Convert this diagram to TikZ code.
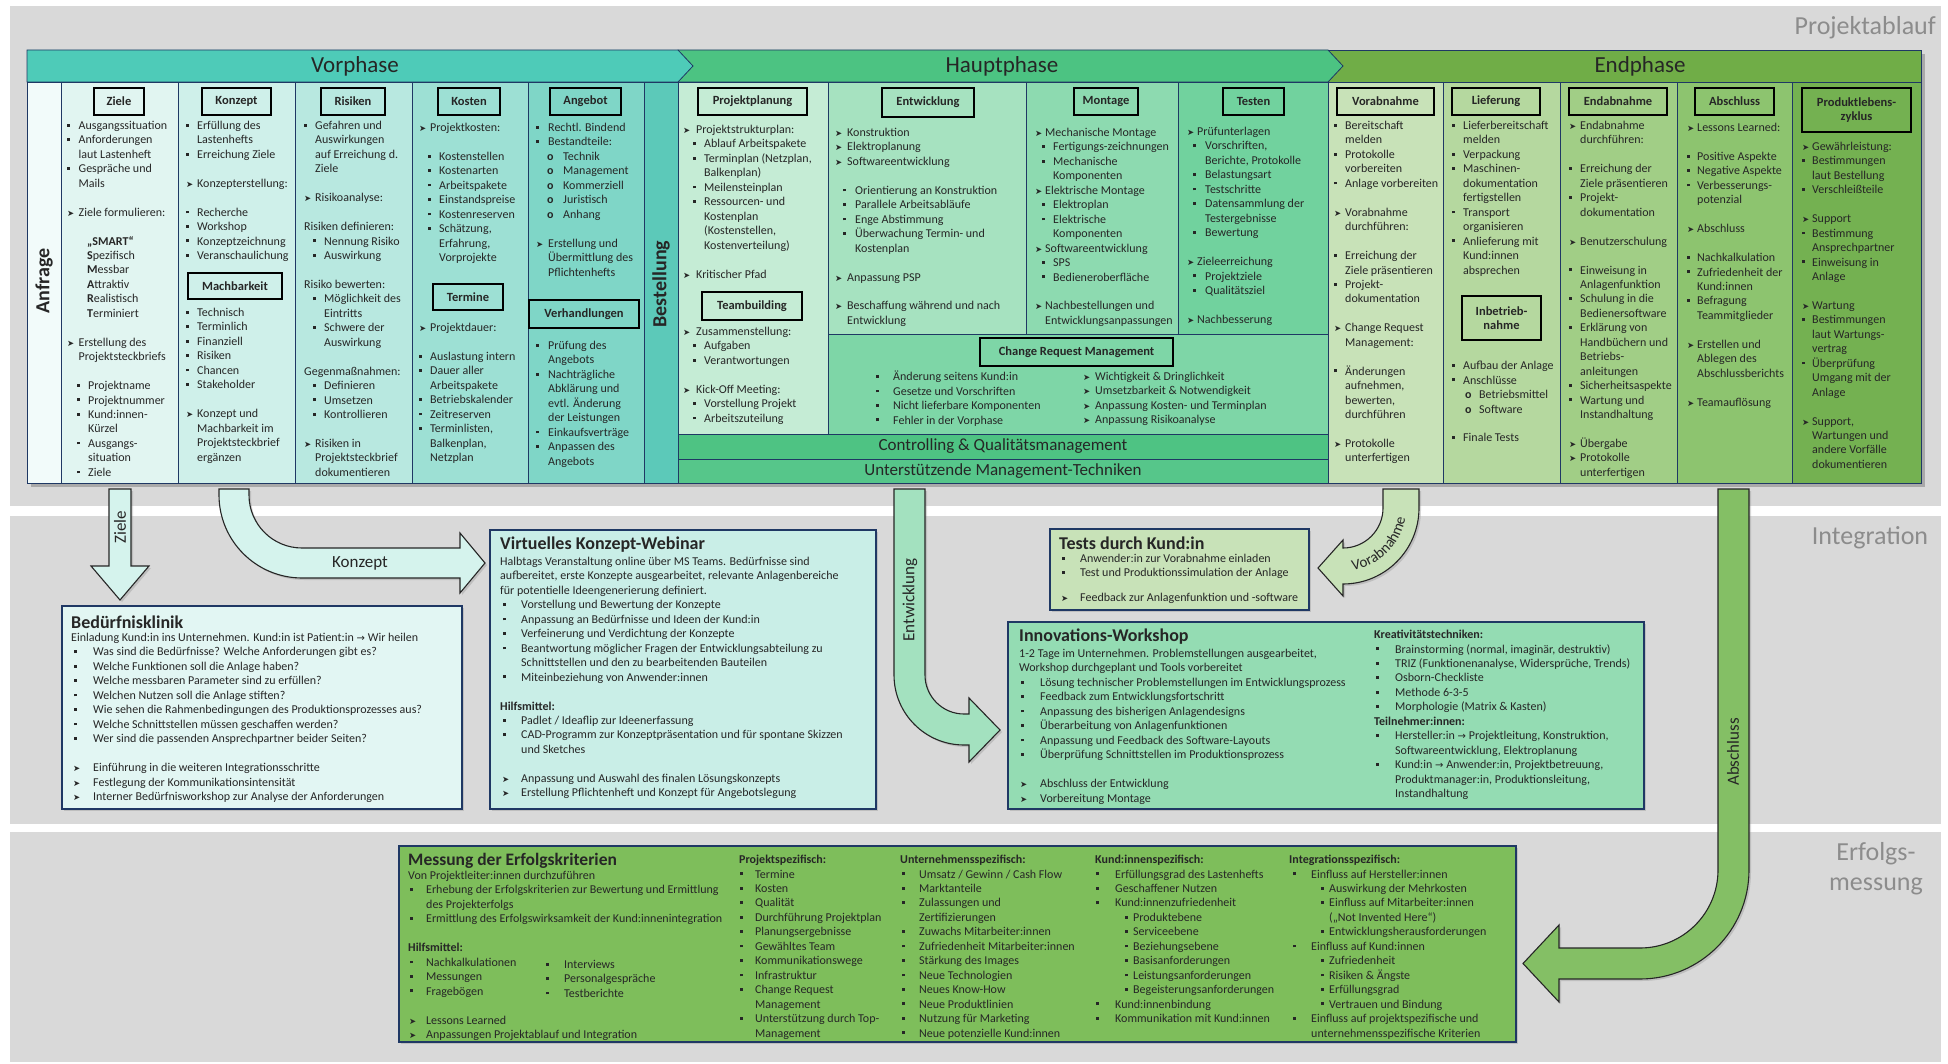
\documentclass[tikz,border=0pt]{standalone}
\usepackage{fontspec}
\setmainfont{Carlito}
\newfontfamily\dv{DejaVu Sans}
\usetikzlibrary{shadows,decorations.text}

% palette
\definecolor{navy}{RGB}{31,56,100}
\definecolor{ink}{RGB}{38,38,38}
\definecolor{bandgrey}{RGB}{217,217,217}
\definecolor{lblgrey}{RGB}{140,140,140}
\definecolor{vorbar}{RGB}{78,203,184}
\definecolor{hauptbar}{RGB}{76,195,130}
\definecolor{endbar}{RGB}{112,173,71}
\definecolor{cAnf}{RGB}{242,251,250}
\definecolor{cZiele}{RGB}{225,245,241}
\definecolor{cKonz}{RGB}{207,240,234}
\definecolor{cRisk}{RGB}{184,232,224}
\definecolor{cKost}{RGB}{157,224,212}
\definecolor{cAng}{RGB}{127,214,199}
\definecolor{cBest}{RGB}{92,201,185}
\definecolor{cPlan}{RGB}{197,236,213}
\definecolor{cEntw}{RGB}{166,226,192}
\definecolor{cMont}{RGB}{141,218,176}
\definecolor{cTest}{RGB}{113,210,158}
\definecolor{cCRM}{RGB}{126,214,167}
\definecolor{cCtrl}{RGB}{78,195,131}
\definecolor{cUnt}{RGB}{86,198,138}
\definecolor{cVorab}{RGB}{200,226,184}
\definecolor{cLief}{RGB}{181,216,159}
\definecolor{cEnda}{RGB}{161,206,134}
\definecolor{cAbs}{RGB}{141,196,111}
\definecolor{cProd}{RGB}{116,177,81}
\definecolor{pBed}{RGB}{226,246,243}
\definecolor{pWeb}{RGB}{201,238,231}
\definecolor{pTest}{RGB}{200,226,184}
\definecolor{pInno}{RGB}{148,220,179}
\definecolor{pMess}{RGB}{126,190,91}
\definecolor{aLight}{RGB}{213,243,237}
\definecolor{aEntw}{RGB}{163,225,191}
\definecolor{aVorab}{RGB}{200,226,184}
\definecolor{aAbs}{RGB}{132,191,101}

\newcommand\bodyfont{\fontsize{12}{14.45}\selectfont}
\newlength\bw
\newcommand\sqb{\rule[2.9pt]{2.8pt}{2.8pt}}
\newcommand\arrb{{\dv\fontsize{8.5}{9}\selectfont\char"27A4}}
\newcommand\rarr{{\dv\fontsize{10}{10}\selectfont\char"2192}}
\newcommand\pB[1]{\makebox[\bw][l]{\sqb}#1}
\newcommand\pA[1]{\makebox[\bw][l]{\arrb}#1}
\newcommand\pI[1]{\hspace*{\bw}#1}
\newcommand\lB[3]{\hspace*{#1}\makebox[#2][l]{\sqb}#3}
\newcommand\lA[3]{\hspace*{#1}\makebox[#2][l]{\arrb}#3}
\newcommand\lO[3]{\hspace*{#1}\makebox[#2][l]{\textbf{o}}#3}
\newcommand\lI[2]{\hspace*{#1}#2}

\begin{document}
\begin{tikzpicture}[x=1pt,y=-1pt,
  col/.style={draw=navy, line width=0.8pt},
  hbox/.style={draw=black, line width=1.3pt, inner sep=0pt, align=center,
    font=\fontsize{12.5}{14}\selectfont\bfseries, text=ink},
  txt/.style={anchor=north west, inner sep=0pt, align=left, font=\bodyfont,
    text=ink, execute at begin node={\rule{0pt}{10pt}}},
  bw/.code={\setlength\bw{#1}},
  phase/.style={font=\fontsize{23}{25}\selectfont, text=ink, inner sep=0pt},
  bandlbl/.style={font=\fontsize{26}{28}\selectfont, text=lblgrey, inner sep=0pt, align=center},
  panel/.style={draw=navy, line width=1.2pt,
    drop shadow={opacity=0.3, shadow xshift=2pt, shadow yshift=-2pt}},
  ptitle/.style={anchor=west, inner sep=0pt, font=\fontsize{18}{20}\selectfont\bfseries, text=ink},
  blockarrow/.style={draw=black!85, line width=1.1pt,
    drop shadow={opacity=0.3, shadow xshift=2pt, shadow yshift=-2pt}},
  arrowlbl/.style={font=\fontsize{17}{18}\selectfont, text=ink, inner sep=0pt},
  sidelbl/.style={font=\fontsize{20}{22}\selectfont\bfseries, text=ink, inner sep=0pt, rotate=90},
  barlbl/.style={font=\fontsize{17}{18}\selectfont, text=ink, inner sep=0pt}
]
\useasboundingbox (0,0) rectangle (1948,1064);
\fill[white] (0,0) rectangle (1948,1064);

% background bands
\fill[bandgrey] (10,6) rectangle (1941,506);
\fill[bandgrey] (10,516) rectangle (1941,824);
\fill[bandgrey] (10,832) rectangle (1941,1062);
\node[bandlbl, anchor=east] (lblAblauf) at (1936,28) {Projektablauf};
\node[bandlbl] (lblInt) at (1870,538) {Integration};
\node[bandlbl] (lblErf) at (1876,869) {Erfolgs-\\[2pt]messung};

% table shadow
\fill[black, opacity=0.22] (31,54) rectangle (1925,487);

% ---------- columns ----------
\draw[col, fill=cAnf]  (27,82) rectangle (61,483);
\draw[col, fill=cZiele] (61,82) rectangle (178,483);
\draw[col, fill=cKonz] (178,82) rectangle (295,483);
\draw[col, fill=cRisk] (295,82) rectangle (412,483);
\draw[col, fill=cKost] (412,82) rectangle (528,483);
\draw[col, fill=cAng]  (528,82) rectangle (644,483);
\draw[col, fill=cBest] (644,82) rectangle (678,483);
\draw[col, fill=cPlan] (678,82) rectangle (828,434);
\draw[col, fill=cEntw] (828,82) rectangle (1026,334);
\draw[col, fill=cMont] (1026,82) rectangle (1178,334);
\draw[col, fill=cTest] (1178,82) rectangle (1328,334);
\draw[col, fill=cCRM]  (828,334) rectangle (1328,434);
\draw[col, fill=cCtrl] (678,434) rectangle (1328,459);
\draw[col, fill=cUnt]  (678,459) rectangle (1328,483);
\draw[col, fill=cVorab] (1328,82) rectangle (1443,483);
\draw[col, fill=cLief] (1443,82) rectangle (1560,483);
\draw[col, fill=cEnda] (1560,82) rectangle (1677,483);
\draw[col, fill=cAbs]  (1677,82) rectangle (1792,483);
\draw[col, fill=cProd] (1792,82) rectangle (1921,483);

% ---------- phase bar ----------
\draw[col, fill=endbar] (1328,50) rectangle (1921,82);
\draw[col, fill=hauptbar] (678,50) -- (1328,50) -- (1343,66) -- (1328,82) -- (678,82) -- cycle;
\draw[col, fill=vorbar] (27,50) -- (678,50) -- (693,66) -- (678,82) -- (27,82) -- cycle;
\node[phase] (phVor) at (355,66) {Vorphase};
\node[phase] (phHaupt) at (1002,66) {Hauptphase};
\node[phase] (phEnd) at (1640,66) {Endphase};

\node[sidelbl] (anfrage) at (44,281) {Anfrage};
\node[sidelbl] (bestellung) at (661,284) {Bestellung};
\node[barlbl] (ctrl) at (1003,446.5) {Controlling \& Qualitätsmanagement};
\node[barlbl] (unterst) at (1003,471) {Unterstützende Management-Techniken};

% ---------- header boxes ----------
\node[hbox, minimum width=50pt, minimum height=27pt] (hZiele) at (119,101.5) {Ziele};
\node[hbox, minimum width=69pt, minimum height=27pt] (hKonzept) at (236.5,101.5) {Konzept};
\node[hbox, minimum width=64pt, minimum height=27pt] (hRisiken) at (353,101.5) {Risiken};
\node[hbox, minimum width=62pt, minimum height=27pt] (hKosten) at (469,101.5) {Kosten};
\node[hbox, minimum width=71pt, minimum height=27pt] (hAngebot) at (585.5,101.5) {Angebot};
\node[hbox, minimum width=109pt, minimum height=27pt] (hPlan) at (752.5,101.5) {Projektplanung};
\node[hbox, minimum width=92pt, minimum height=29pt] (hEntw) at (928,102.5) {Entwicklung};
\node[hbox, minimum width=64pt, minimum height=27pt] (hMont) at (1106,101.5) {Montage};
\node[hbox, minimum width=61pt, minimum height=27pt] (hTest) at (1253.5,101.5) {Testen};
\node[hbox, minimum width=97pt, minimum height=27pt] (hVorab) at (1385.5,101.5) {Vorabnahme};
\node[hbox, minimum width=88pt, minimum height=27pt] (hLief) at (1496,101.5) {Lieferung};
\node[hbox, minimum width=98pt, minimum height=27pt] (hEnda) at (1618,101.5) {Endabnahme};
\node[hbox, minimum width=79pt, minimum height=27pt] (hAbs) at (1734.5,101.5) {Abschluss};
\node[hbox, minimum width=109pt, minimum height=44pt] (hProd) at (1856.5,110) {Produktlebens-\\zyklus};
\node[hbox, minimum width=94pt, minimum height=26pt] (hMach) at (235,286) {Machbarkeit};
\node[hbox, minimum width=70pt, minimum height=26pt] (hTermine) at (468,297) {Termine};
\node[hbox, minimum width=110pt, minimum height=28pt] (hVerh) at (584,314) {Verhandlungen};
\node[hbox, minimum width=100pt, minimum height=28pt] (hTeam) at (752,306) {Teambuilding};
\node[hbox, minimum width=193pt, minimum height=28pt] (hCRM) at (1076.5,352) {Change Request Management};
\node[hbox, minimum width=79pt, minimum height=44pt] (hInbetr) at (1501.5,318) {Inbetrieb-\\nahme};

% ---------- column texts ----------
\node[txt, bw=11.5pt] (tZiele) at (67,121) {\pB{Ausgangssituation}\\ \pB{Anforderungen}\\ \pI{laut Lastenheft}\\ \pB{Gespräche und}\\ \pI{Mails}\\ ~\\ \pA{Ziele formulieren:}\\ ~\\ \lI{20pt}{\textbf{„SMART“}}\\ \lI{20pt}{\textbf{S}pezifisch}\\ \lI{20pt}{\textbf{M}essbar}\\ \lI{20pt}{\textbf{A}ttraktiv}\\ \lI{20pt}{\textbf{R}ealistisch}\\ \lI{20pt}{\textbf{T}erminiert}\\ ~\\ \pA{Erstellung des}\\ \pI{Projektsteckbriefs}\\ ~\\ \lB{10pt}{11pt}{Projektname}\\ \lB{10pt}{11pt}{Projektnummer}\\ \lB{10pt}{11pt}{Kund:innen-}\\ \lI{21pt}{Kürzel}\\ \lB{10pt}{11pt}{Ausgangs-}\\ \lI{21pt}{situation}\\ \lB{10pt}{11pt}{Ziele}};

\node[txt, bw=11pt] (tKonzA) at (186,121) {\pB{Erfüllung des}\\ \pI{Lastenhefts}\\ \pB{Erreichung Ziele}\\ ~\\ \pA{Konzepterstellung:}\\ ~\\ \pB{Recherche}\\ \pB{Workshop}\\ \pB{Konzeptzeichnung}\\ \pB{Veranschaulichung}};
\node[txt, bw=11pt] (tKonzB) at (186,308) {\pB{Technisch}\\ \pB{Terminlich}\\ \pB{Finanziell}\\ \pB{Risiken}\\ \pB{Chancen}\\ \pB{Stakeholder}\\ ~\\ \pA{Konzept und}\\ \pI{Machbarkeit im}\\ \pI{Projektsteckbrief}\\ \pI{ergänzen}};

\node[txt, bw=11pt] (tRisk) at (304,121) {\pB{Gefahren und}\\ \pI{Auswirkungen}\\ \pI{auf Erreichung d.}\\ \pI{Ziele}\\ ~\\ \pA{Risikoanalyse:}\\ ~\\ Risiken definieren:\\ \lB{9pt}{11pt}{Nennung Risiko}\\ \lB{9pt}{11pt}{Auswirkung}\\ ~\\ Risiko bewerten:\\ \lB{9pt}{11pt}{Möglichkeit des}\\ \lI{20pt}{Eintritts}\\ \lB{9pt}{11pt}{Schwere der}\\ \lI{20pt}{Auswirkung}\\ ~\\ Gegenmaßnahmen:\\ \lB{9pt}{11pt}{Definieren}\\ \lB{9pt}{11pt}{Umsetzen}\\ \lB{9pt}{11pt}{Kontrollieren}\\ ~\\ \pA{Risiken in}\\ \pI{Projektsteckbrief}\\ \pI{dokumentieren}};

\node[txt, bw=11pt] (tKostA) at (419,123) {\pA{Projektkosten:}\\ ~\\ \lB{9pt}{11pt}{Kostenstellen}\\ \lB{9pt}{11pt}{Kostenarten}\\ \lB{9pt}{11pt}{Arbeitspakete}\\ \lB{9pt}{11pt}{Einstandspreise}\\ \lB{9pt}{11pt}{Kostenreserven}\\ \lB{9pt}{11pt}{Schätzung,}\\ \lI{20pt}{Erfahrung,}\\ \lI{20pt}{Vorprojekte}};
\node[txt, bw=11pt] (tKostB) at (419,323) {\pA{Projektdauer:}\\ ~\\ \pB{Auslastung intern}\\ \pB{Dauer aller}\\ \pI{Arbeitspakete}\\ \pB{Betriebskalender}\\ \pB{Zeitreserven}\\ \pB{Terminlisten,}\\ \pI{Balkenplan,}\\ \pI{Netzplan}};

\node[txt, bw=12pt] (tAngA) at (536,123) {\pB{Rechtl. Bindend}\\ \pB{Bestandteile:}\\ \lO{11pt}{16pt}{Technik}\\ \lO{11pt}{16pt}{Management}\\ \lO{11pt}{16pt}{Kommerziell}\\ \lO{11pt}{16pt}{Juristisch}\\ \lO{11pt}{16pt}{Anhang}\\ ~\\ \pA{Erstellung und}\\ \pI{Übermittlung des}\\ \pI{Pflichtenhefts}};
\node[txt, bw=12pt] (tAngB) at (536,341) {\pB{Prüfung des}\\ \pI{Angebots}\\ \pB{Nachträgliche}\\ \pI{Abklärung und}\\ \pI{evtl. Änderung}\\ \pI{der Leistungen}\\ \pB{Einkaufsverträge}\\ \pB{Anpassen des}\\ \pI{Angebots}};

\node[txt, bw=13pt] (tPlanA) at (683,125) {\pA{Projektstrukturplan:}\\ \lB{10pt}{11pt}{Ablauf Arbeitspakete}\\ \lB{10pt}{11pt}{Terminplan (Netzplan,}\\ \lI{21pt}{Balkenplan)}\\ \lB{10pt}{11pt}{Meilensteinplan}\\ \lB{10pt}{11pt}{Ressourcen- und}\\ \lI{21pt}{Kostenplan}\\ \lI{21pt}{(Kostenstellen,}\\ \lI{21pt}{Kostenverteilung)}\\ ~\\ \pA{Kritischer Pfad}};
\node[txt, bw=13pt] (tPlanB) at (683,327) {\pA{Zusammenstellung:}\\ \lB{10pt}{11pt}{Aufgaben}\\ \lB{10pt}{11pt}{Verantwortungen}\\ ~\\ \pA{Kick-Off Meeting:}\\ \lB{10pt}{11pt}{Vorstellung Projekt}\\ \lB{10pt}{11pt}{Arbeitszuteilung}};

\node[txt, bw=12pt] (tEntw) at (835,128) {\pA{Konstruktion}\\ \pA{Elektroplanung}\\ \pA{Softwareentwicklung}\\ ~\\ \lB{8pt}{12pt}{Orientierung an Konstruktion}\\ \lB{8pt}{12pt}{Parallele Arbeitsabläufe}\\ \lB{8pt}{12pt}{Enge Abstimmung}\\ \lB{8pt}{12pt}{Überwachung Termin- und}\\ \lI{20pt}{Kostenplan}\\ ~\\ \pA{Anpassung PSP}\\ ~\\ \pA{Beschaffung während und nach}\\ \pI{Entwicklung}};

\node[txt, bw=10pt] (tMont) at (1035,128) {\pA{Mechanische Montage}\\ \lB{7pt}{11pt}{Fertigungs-zeichnungen}\\ \lB{7pt}{11pt}{Mechanische}\\ \lI{18pt}{Komponenten}\\ \pA{Elektrische Montage}\\ \lB{7pt}{11pt}{Elektroplan}\\ \lB{7pt}{11pt}{Elektrische}\\ \lI{18pt}{Komponenten}\\ \pA{Softwareentwicklung}\\ \lB{7pt}{11pt}{SPS}\\ \lB{7pt}{11pt}{Bedieneroberfläche}\\ ~\\ \pA{Nachbestellungen und}\\ \pI{Entwicklungsanpassungen}};

\node[txt, bw=10pt] (tTest) at (1187,127) {\pA{Prüfunterlagen}\\ \lB{6pt}{12pt}{Vorschriften,}\\ \lI{18pt}{Berichte, Protokolle}\\ \lB{6pt}{12pt}{Belastungsart}\\ \lB{6pt}{12pt}{Testschritte}\\ \lB{6pt}{12pt}{Datensammlung der}\\ \lI{18pt}{Testergebnisse}\\ \lB{6pt}{12pt}{Bewertung}\\ ~\\ \pA{Zieleerreichung}\\ \lB{6pt}{12pt}{Projektziele}\\ \lB{6pt}{12pt}{Qualitätsziel}\\ ~\\ \pA{Nachbesserung}};

\node[txt, bw=17pt] (tCRMa) at (876,371) {\pB{Änderung seitens Kund:in}\\ \pB{Gesetze und Vorschriften}\\ \pB{Nicht lieferbare Komponenten}\\ \pB{Fehler in der Vorphase}};
\node[txt, bw=12pt] (tCRMb) at (1083,372) {\pA{Wichtigkeit \& Dringlichkeit}\\ \pA{Umsetzbarkeit \& Notwendigkeit}\\ \pA{Anpassung Kosten- und Terminplan}\\ \pA{Anpassung Risikoanalyse}};

\node[txt, bw=11pt] (tVorab) at (1334,121) {\pB{Bereitschaft}\\ \pI{melden}\\ \pB{Protokolle}\\ \pI{vorbereiten}\\ \pB{Anlage vorbereiten}\\ ~\\ \pA{Vorabnahme}\\ \pI{durchführen:}\\ ~\\ \pB{Erreichung der}\\ \pI{Ziele präsentieren}\\ \pB{Projekt-}\\ \pI{dokumentation}\\ ~\\ \pA{Change Request}\\ \pI{Management:}\\ ~\\ \pB{Änderungen}\\ \pI{aufnehmen,}\\ \pI{bewerten,}\\ \pI{durchführen}\\ ~\\ \pA{Protokolle}\\ \pI{unterfertigen}};

\node[txt, bw=11pt] (tLiefA) at (1452,121) {\pB{Lieferbereitschaft}\\ \pI{melden}\\ \pB{Verpackung}\\ \pB{Maschinen-}\\ \pI{dokumentation}\\ \pI{fertigstellen}\\ \pB{Transport}\\ \pI{organisieren}\\ \pB{Anlieferung mit}\\ \pI{Kund:innen}\\ \pI{absprechen}};
\node[txt, bw=11pt] (tLiefB) at (1452,361) {\pB{Aufbau der Anlage}\\ \pB{Anschlüsse}\\ \lO{13pt}{14pt}{Betriebsmittel}\\ \lO{13pt}{14pt}{Software}\\ ~\\ \pB{Finale Tests}};

\node[txt, bw=11pt] (tEnda) at (1569,121) {\pA{Endabnahme}\\ \pI{durchführen:}\\ ~\\ \pB{Erreichung der}\\ \pI{Ziele präsentieren}\\ \pB{Projekt-}\\ \pI{dokumentation}\\ ~\\ \pA{Benutzerschulung}\\ ~\\ \pB{Einweisung in}\\ \pI{Anlagenfunktion}\\ \pB{Schulung in die}\\ \pI{Bedienersoftware}\\ \pB{Erklärung von}\\ \pI{Handbüchern und}\\ \pI{Betriebs-}\\ \pI{anleitungen}\\ \pB{Sicherheitsaspekte}\\ \pB{Wartung und}\\ \pI{Instandhaltung}\\ ~\\ \pA{Übergabe}\\ \pA{Protokolle}\\ \pI{unterfertigen}};

\node[txt, bw=10pt] (tAbs) at (1687,123) {\pA{Lessons Learned:}\\ ~\\ \pB{Positive Aspekte}\\ \pB{Negative Aspekte}\\ \pB{Verbesserungs-}\\ \pI{potenzial}\\ ~\\ \pA{Abschluss}\\ ~\\ \pB{Nachkalkulation}\\ \pB{Zufriedenheit der}\\ \pI{Kund:innen}\\ \pB{Befragung}\\ \pI{Teammitglieder}\\ ~\\ \pA{Erstellen und}\\ \pI{Ablegen des}\\ \pI{Abschlussberichts}\\ ~\\ \pA{Teamauflösung}};

\node[txt, bw=10pt] (tProd) at (1802,142) {\pA{Gewährleistung:}\\ \pB{Bestimmungen}\\ \pI{laut Bestellung}\\ \pB{Verschleißteile}\\ ~\\ \pA{Support}\\ \pB{Bestimmung}\\ \pI{Ansprechpartner}\\ \pB{Einweisung in}\\ \pI{Anlage}\\ ~\\ \pA{Wartung}\\ \pB{Bestimmungen}\\ \pI{laut Wartungs-}\\ \pI{vertrag}\\ \pB{Überprüfung}\\ \pI{Umgang mit der}\\ \pI{Anlage}\\ ~\\ \pA{Support,}\\ \pI{Wartungen und}\\ \pI{andere Vorfälle}\\ \pI{dokumentieren}};

% ---------- block arrows ----------
\path[blockarrow, fill=aLight] (109,489) -- (131,489) -- (131,566) -- (149,566) -- (120,600) -- (91,566) -- (109,566) -- cycle;
\node[arrowlbl, rotate=90] (lZiele) at (120,527) {Ziele};

\path[blockarrow, fill=aLight] (219,489) -- (249,489) -- (249,495) .. controls (249,524.3) and (272.7,548) .. (302,548) -- (460,548) -- (460,533) -- (485,563) -- (460,593) -- (460,578) -- (302,578) .. controls (256.2,578) and (219,540.8) .. (219,495) -- cycle;
\node[arrowlbl] (lKonzept) at (360,563) {Konzept};

\path[blockarrow, fill=aEntw] (894,489) -- (925,489) -- (925,675) .. controls (925,696.5) and (942.5,714) .. (964,714) -- (969,714) -- (969,698) -- (1000,730) -- (969,762) -- (969,745) -- (964,745) .. controls (925.3,745) and (894,713.7) .. (894,675) -- cycle;
\node[arrowlbl, rotate=90] (lEntw) at (910,600) {Entwicklung};

\path[blockarrow, fill=aVorab] (1383,489) -- (1419,489) -- (1419,508) .. controls (1419,550) and (1385,584) .. (1343,584) -- (1343,596) -- (1318,568) -- (1343,540) -- (1343,548) .. controls (1365.1,548) and (1383,530.1) .. (1383,508) -- cycle;
% label following the bend of the arrow
\path[decorate, decoration={text along path, text align=center,
    text={|\fontsize{15}{16}\selectfont\color{ink}|Vorabnahme}}]
  (1343,571) .. controls (1377.8,571) and (1406,542.8) .. (1406,508);

\path[blockarrow, fill=aAbs] (1718,489) -- (1749,489) -- (1749,870) .. controls (1749,930.2) and (1700.2,979) .. (1640,979) -- (1559,979) -- (1559,1002) -- (1523,963.5) -- (1559,925) -- (1559,948) -- (1640,948) .. controls (1683.1,948) and (1718,913.1) .. (1718,870) -- cycle;
\node[arrowlbl, rotate=90] (lAbs) at (1733,752) {Abschluss};

% ---------- integration panels ----------
\path[panel, fill=pBed] (62,606) rectangle (462,809);
\node[ptitle] (bedT) at (71,622) {Bedürfnisklinik};
\node[txt] (bedB) at (71,633) {Einladung Kund:in ins Unternehmen. Kund:in ist Patient:in \rarr{} Wir heilen\\ \lB{3pt}{19pt}{Was sind die Bedürfnisse? Welche Anforderungen gibt es?}\\ \lB{3pt}{19pt}{Welche Funktionen soll die Anlage haben?}\\ \lB{3pt}{19pt}{Welche messbaren Parameter sind zu erfüllen?}\\ \lB{3pt}{19pt}{Welchen Nutzen soll die Anlage stiften?}\\ \lB{3pt}{19pt}{Wie sehen die Rahmenbedingungen des Produktionsprozesses aus?}\\ \lB{3pt}{19pt}{Welche Schnittstellen müssen geschaffen werden?}\\ \lB{3pt}{19pt}{Wer sind die passenden Ansprechpartner beider Seiten?}\\ ~\\ \lA{2pt}{20pt}{Einführung in die weiteren Integrationsschritte}\\ \lA{2pt}{20pt}{Festlegung der Kommunikationsintensität}\\ \lA{2pt}{20pt}{Interner Bedürfnisworkshop zur Analyse der Anforderungen}};

\path[panel, fill=pWeb] (490,530) rectangle (876,809);
\node[ptitle] (webT) at (500,545) {Virtuelles Konzept-Webinar};
\node[txt] (webB) at (500,557) {Halbtags Veranstaltung online über MS Teams. Bedürfnisse sind\\ aufbereitet, erste Konzepte ausgearbeitet, relevante Anlagenbereiche\\ für potentielle Ideengenerierung definiert.\\ \lB{3pt}{18pt}{Vorstellung und Bewertung der Konzepte}\\ \lB{3pt}{18pt}{Anpassung an Bedürfnisse und Ideen der Kund:in}\\ \lB{3pt}{18pt}{Verfeinerung und Verdichtung der Konzepte}\\ \lB{3pt}{18pt}{Beantwortung möglicher Fragen der Entwicklungsabteilung zu}\\ \lI{21pt}{Schnittstellen und den zu bearbeitenden Bauteilen}\\ \lB{3pt}{18pt}{Miteinbeziehung von Anwender:innen}\\ ~\\ \textbf{Hilfsmittel:}\\ \lB{3pt}{18pt}{Padlet / Ideaflip zur Ideenerfassung}\\ \lB{3pt}{18pt}{CAD-Programm zur Konzeptpräsentation und für spontane Skizzen}\\ \lI{21pt}{und Sketches}\\ ~\\ \lA{2pt}{19pt}{Anpassung und Auswahl des finalen Lösungskonzepts}\\ \lA{2pt}{19pt}{Erstellung Pflichtenheft und Konzept für Angebotslegung}};

\path[panel, fill=pTest] (1050,529) rectangle (1309,610);
\node[ptitle] (testT) at (1059,543) {Tests durch Kund:in};
\node[txt] (testB) at (1059,554) {\lB{3pt}{18pt}{Anwender:in zur Vorabnahme einladen}\\ \lB{3pt}{18pt}{Test und Produktionssimulation der Anlage}};
\node[txt] (testC) at (1059,591) {\lA{2pt}{19pt}{Feedback zur Anlagenfunktion und -software}};

\path[panel, fill=pInno] (1008,622) rectangle (1644,809);
\node[ptitle] (innoT) at (1019,637) {Innovations-Workshop};
\node[txt] (innoB) at (1019,649) {1-2 Tage im Unternehmen. Problemstellungen ausgearbeitet,\\ Workshop durchgeplant und Tools vorbereitet\\ \lB{2pt}{19pt}{Lösung technischer Problemstellungen im Entwicklungsprozess}\\ \lB{2pt}{19pt}{Feedback zum Entwicklungsfortschritt}\\ \lB{2pt}{19pt}{Anpassung des bisherigen Anlagendesigns}\\ \lB{2pt}{19pt}{Überarbeitung von Anlagenfunktionen}\\ \lB{2pt}{19pt}{Anpassung und Feedback des Software-Layouts}\\ \lB{2pt}{19pt}{Überprüfung Schnittstellen im Produktionsprozess}\\ ~\\ \lA{1pt}{20pt}{Abschluss der Entwicklung}\\ \lA{1pt}{20pt}{Vorbereitung Montage}};
\node[txt] (innoR) at (1374,630) {\textbf{Kreativitätstechniken:}\\ \lB{2pt}{19pt}{Brainstorming (normal, imaginär, destruktiv)}\\ \lB{2pt}{19pt}{TRIZ (Funktionenanalyse, Widersprüche, Trends)}\\ \lB{2pt}{19pt}{Osborn-Checkliste}\\ \lB{2pt}{19pt}{Methode 6-3-5}\\ \lB{2pt}{19pt}{Morphologie (Matrix \& Kasten)}\\ \textbf{Teilnehmer:innen:}\\ \lB{2pt}{19pt}{Hersteller:in \rarr{} Projektleitung, Konstruktion,}\\ \lI{21pt}{Softwareentwicklung, Elektroplanung}\\ \lB{2pt}{19pt}{Kund:in \rarr{} Anwender:in, Projektbetreuung,}\\ \lI{21pt}{Produktmanager:in, Produktionsleitung,}\\ \lI{21pt}{Instandhaltung}};

% ---------- success measurement panel ----------
\path[panel, fill=pMess] (399,846) rectangle (1516,1042);
\node[ptitle, font=\fontsize{17.5}{20}\selectfont\bfseries] (messT) at (408,861) {Messung der Erfolgskriterien};
\node[txt] (messB) at (408,871) {Von Projektleiter:innen durchzuführen\\ \lB{2pt}{16pt}{Erhebung der Erfolgskriterien zur Bewertung und Ermittlung}\\ \lI{18pt}{des Projekterfolgs}\\ \lB{2pt}{16pt}{Ermittlung des Erfolgswirksamkeit der Kund:innenintegration}\\ ~\\ \textbf{Hilfsmittel:}\\ \lB{2pt}{16pt}{Nachkalkulationen}\\ \lB{2pt}{16pt}{Messungen}\\ \lB{2pt}{16pt}{Fragebögen}\\ ~\\ \lA{1pt}{17pt}{Lessons Learned}\\ \lA{1pt}{17pt}{Anpassungen Projektablauf und Integration}};
\node[txt] (messH) at (546,960) {\lB{0pt}{18pt}{Interviews}\\ \lB{0pt}{18pt}{Personalgespräche}\\ \lB{0pt}{18pt}{Testberichte}};
\node[txt] (messP) at (739,855) {\textbf{Projektspezifisch:}\\ \lB{1pt}{15pt}{Termine}\\ \lB{1pt}{15pt}{Kosten}\\ \lB{1pt}{15pt}{Qualität}\\ \lB{1pt}{15pt}{Durchführung Projektplan}\\ \lB{1pt}{15pt}{Planungsergebnisse}\\ \lB{1pt}{15pt}{Gewähltes Team}\\ \lB{1pt}{15pt}{Kommunikationswege}\\ \lB{1pt}{15pt}{Infrastruktur}\\ \lB{1pt}{15pt}{Change Request}\\ \lI{16pt}{Management}\\ \lB{1pt}{15pt}{Unterstützung durch Top-}\\ \lI{16pt}{Management}};
\node[txt] (messU) at (900,855) {\textbf{Unternehmensspezifisch:}\\ \lB{2pt}{17pt}{Umsatz / Gewinn / Cash Flow}\\ \lB{2pt}{17pt}{Marktanteile}\\ \lB{2pt}{17pt}{Zulassungen und}\\ \lI{19pt}{Zertifizierungen}\\ \lB{2pt}{17pt}{Zuwachs Mitarbeiter:innen}\\ \lB{2pt}{17pt}{Zufriedenheit Mitarbeiter:innen}\\ \lB{2pt}{17pt}{Stärkung des Images}\\ \lB{2pt}{17pt}{Neue Technologien}\\ \lB{2pt}{17pt}{Neues Know-How}\\ \lB{2pt}{17pt}{Neue Produktlinien}\\ \lB{2pt}{17pt}{Nutzung für Marketing}\\ \lB{2pt}{17pt}{Neue potenzielle Kund:innen}};
\node[txt] (messK) at (1095,855) {\textbf{Kund:innenspezifisch:}\\ \lB{1pt}{19pt}{Erfüllungsgrad des Lastenhefts}\\ \lB{1pt}{19pt}{Geschaffener Nutzen}\\ \lB{1pt}{19pt}{Kund:innenzufriedenheit}\\ \lB{30pt}{8pt}{Produktebene}\\ \lB{30pt}{8pt}{Serviceebene}\\ \lB{30pt}{8pt}{Beziehungsebene}\\ \lB{30pt}{8pt}{Basisanforderungen}\\ \lB{30pt}{8pt}{Leistungsanforderungen}\\ \lB{30pt}{8pt}{Begeisterungsanforderungen}\\ \lB{1pt}{19pt}{Kund:innenbindung}\\ \lB{1pt}{19pt}{Kommunikation mit Kund:innen}};
\node[txt] (messI) at (1289,855) {\textbf{Integrationsspezifisch:}\\ \lB{4pt}{18pt}{Einfluss auf Hersteller:innen}\\ \lB{32pt}{8pt}{Auswirkung der Mehrkosten}\\ \lB{32pt}{8pt}{Einfluss auf Mitarbeiter:innen}\\ \lI{40pt}{(„Not Invented Here“)}\\ \lB{32pt}{8pt}{Entwicklungsherausforderungen}\\ \lB{4pt}{18pt}{Einfluss auf Kund:innen}\\ \lB{32pt}{8pt}{Zufriedenheit}\\ \lB{32pt}{8pt}{Risiken \& Ängste}\\ \lB{32pt}{8pt}{Erfüllungsgrad}\\ \lB{32pt}{8pt}{Vertrauen und Bindung}\\ \lB{4pt}{18pt}{Einfluss auf projektspezifische und}\\ \lI{22pt}{unternehmensspezifische Kriterien}};

\end{tikzpicture}
\end{document}
